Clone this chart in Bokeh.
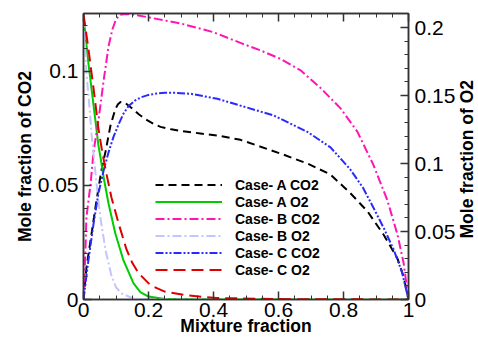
import numpy as np
from bokeh.plotting import figure
from bokeh.layouts import row
from bokeh.models import Range1d, LinearAxis, FixedTicker, Legend, LegendItem, Div
from bokeh.embed import file_html
from bokeh.resources import INLINE

# ---- data ----
a_co2_x = [0, 0.009, 0.025, 0.04, 0.055, 0.068, 0.083, 0.098, 0.106, 0.114, 0.122, 0.13, 0.148, 0.17, 0.191, 0.215, 0.237, 0.27, 0.3, 0.36, 0.42, 0.483, 0.545, 0.606, 0.689, 0.76, 0.822, 0.874, 0.923, 0.966, 0.985, 1.0]
a_co2_y = [0, 0.014, 0.029, 0.0434, 0.0566, 0.0650, 0.0763, 0.0835, 0.0856, 0.0866, 0.0866, 0.0860, 0.0840, 0.0812, 0.0790, 0.0770, 0.0757, 0.0746, 0.0739, 0.0728, 0.0717, 0.0700, 0.0670, 0.0640, 0.0596, 0.0548, 0.0465, 0.0386, 0.0285, 0.0180, 0.010, 0]

a_o2_x = [0, 0.003, 0.015, 0.031, 0.046, 0.052, 0.062, 0.077, 0.098, 0.123, 0.154, 0.175, 0.2, 0.25, 0.35, 1.0]
a_o2_y = [0.208, 0.2015, 0.174, 0.1426, 0.1132, 0.1050, 0.0897, 0.0706, 0.0485, 0.0287, 0.0118, 0.0055, 0.0022, 0.0004, 0, 0]

b_co2_x = [0, 0.006, 0.009, 0.022, 0.031, 0.046, 0.062, 0.077, 0.089, 0.1, 0.112, 0.129, 0.16, 0.2, 0.3, 0.4, 0.483, 0.545, 0.606, 0.668, 0.729, 0.791, 0.843, 0.892, 0.935, 0.966, 0.985, 1.0]
b_co2_y = [0, 0.0215, 0.036, 0.051, 0.065, 0.0785, 0.096, 0.111, 0.1185, 0.1228, 0.1248, 0.1252, 0.1248, 0.1237, 0.1210, 0.1172, 0.1125, 0.1092, 0.1055, 0.1005, 0.0928, 0.0838, 0.0735, 0.0590, 0.0435, 0.0285, 0.0160, 0]

b_o2_x = [0, 0.003, 0.009, 0.018, 0.025, 0.031, 0.04, 0.052, 0.068, 0.086, 0.1, 0.117, 0.154, 0.2, 1.0]
b_o2_y = [0.21, 0.192, 0.167, 0.1426, 0.121, 0.1070, 0.0853, 0.0603, 0.036, 0.0175, 0.0090, 0.0044, 0.0007, 0, 0]

c_co2_x = [0, 0.015, 0.031, 0.046, 0.062, 0.077, 0.092, 0.108, 0.123, 0.138, 0.158, 0.178, 0.2, 0.225, 0.25, 0.28, 0.33, 0.412, 0.483, 0.585, 0.689, 0.76, 0.82, 0.86, 0.893, 0.925, 0.954, 0.98, 1.0]
c_co2_y = [0, 0.0171, 0.0333, 0.0465, 0.0566, 0.0645, 0.0712, 0.0768, 0.0815, 0.0847, 0.0872, 0.0887, 0.0897, 0.0903, 0.0906, 0.0906, 0.0902, 0.0880, 0.0850, 0.0807, 0.0735, 0.0667, 0.0572, 0.0490, 0.0400, 0.0310, 0.0220, 0.0120, 0]

c_o2_x = [0, 0.015, 0.031, 0.046, 0.058, 0.071, 0.086, 0.108, 0.132, 0.15, 0.169, 0.206, 0.25, 0.32, 0.41, 0.6, 1.0]
c_o2_y = [0.21, 0.1846, 0.155, 0.1257, 0.1080, 0.0920, 0.0750, 0.0559, 0.0370, 0.0270, 0.0195, 0.0105, 0.0058, 0.0030, 0.0011, 0.0003, 0]

series_labels = ["Case- A CO2", "Case- A O2", "Case- B CO2", "Case- B O2", "Case- C CO2", "Case- C O2"]

x_ticks = [0, 0.2, 0.4, 0.6, 0.8, 1.0]
x_tick_labels = ["0", "0.2", "0.4", "0.6", "0.8", "1"]
left_ticks = [0, 0.05, 0.1]
left_tick_labels = ["0", "0.05", "0.1"]
right_ticks = [0, 0.05, 0.1, 0.15, 0.2]
right_tick_labels = ["0", "0.05", "0.1", "0.15", "0.2"]
right_title = "Mole fraction of O2"

FONT = "Liberation Sans"
TICK_FS = "21px"
LABEL_FS = "17.5px"

TITLE_W = 20  # strip on the far right that carries the right-hand axis title

p = figure(width=478 - TITLE_W, height=342, output_backend="svg", toolbar_location=None,
           x_range=Range1d(0, 1), y_range=Range1d(0, 0.1254),
           min_border_left=83, min_border_right=70 - TITLE_W, min_border_top=13, min_border_bottom=43,
           background_fill_color="white", border_fill_color="white")
p.extra_y_ranges = {"o2": Range1d(0, 0.2103)}
p.xgrid.visible = False
p.ygrid.visible = False
p.outline_line_color = "#333333"
p.outline_line_width = 1.5


def style_axis(ax, ticks, labels, minor, show_labels=True):
    ax.ticker = FixedTicker(ticks=ticks, minor_ticks=minor)
    ax.major_label_overrides = {t: l for t, l in zip(ticks, labels)}
    ax.major_tick_in = 8
    ax.major_tick_out = 0
    ax.minor_tick_in = 4
    ax.minor_tick_out = 0
    ax.axis_line_color = "#333333"
    ax.axis_line_width = 1.5
    ax.major_tick_line_color = "#333333"
    ax.minor_tick_line_color = "#333333"
    ax.major_tick_line_width = 1.5
    ax.major_label_text_font = FONT
    ax.major_label_text_font_size = TICK_FS if show_labels else "1px"
    ax.major_label_text_color = "black" if show_labels else None
    ax.major_label_standoff = 5
    ax.axis_label_text_font = FONT
    ax.axis_label_text_font_size = LABEL_FS
    ax.axis_label_text_font_style = "bold"
    ax.axis_label_text_color = "black"
    ax.axis_label_standoff = 0


x_minor = [float(v) for v in np.round(np.arange(0, 1.0001, 0.05), 4)]
l_minor = [float(v) for v in np.round(np.arange(0, 0.1251, 0.01), 4)]
r_minor = [float(v) for v in np.round(np.arange(0, 0.2101, 0.01), 4)]

xa = p.xaxis[0]
style_axis(xa, x_ticks, x_tick_labels, x_minor)
xa.axis_label = "Mixture fraction"
xa.major_label_standoff = 3
xa.axis_label_standoff = -4

ya = p.yaxis[0]
style_axis(ya, left_ticks, left_tick_labels, l_minor)
ya.axis_label = "Mole fraction of CO2"

ra = LinearAxis(y_range_name="o2")
style_axis(ra, right_ticks, right_tick_labels, r_minor)
ra.major_label_standoff = 6
p.add_layout(ra, "right")

ta = LinearAxis()
style_axis(ta, x_ticks, x_tick_labels, x_minor, show_labels=False)
ta.major_label_standoff = 0
p.add_layout(ta, "above")

W = 2
r1 = p.line(a_co2_x, a_co2_y, line_color="black", line_width=W, line_dash="8 5")
r2 = p.line(a_o2_x, a_o2_y, line_color="#00cc00", line_width=W, y_range_name="o2")
r3 = p.line(b_co2_x, b_co2_y, line_color="#ff14b4", line_width=W, line_dash="9 3 2 3")
r4 = p.line(b_o2_x, b_o2_y, line_color="#c4c4ff", line_width=W, line_dash="9 3 2 3", y_range_name="o2")
r5 = p.line(c_co2_x, c_co2_y, line_color="#2a2aff", line_width=W, line_dash="8 2 2 2 2 2")
r6 = p.line(c_o2_x, c_o2_y, line_color="#dd0000", line_width=W, line_dash="12 6", y_range_name="o2")

items = [LegendItem(label=l, renderers=[r]) for l, r in zip(series_labels, [r1, r2, r3, r4, r5, r6])]
legend = Legend(items=items, location=(72, 21), margin=0, padding=0,
                border_line_alpha=0, background_fill_alpha=0,
                glyph_width=67, glyph_height=17, label_height=17, spacing=0,
                label_standoff=13, label_text_font=FONT, label_text_font_size="14px",
                label_text_font_style="bold", label_text_color="black")
p.add_layout(legend)

# right-hand axis title, reading bottom-to-top
title_html = (
    '<div style="width:%dpx;height:318px;display:flex;align-items:center;justify-content:center;">'
    '<span style="writing-mode:vertical-rl;transform:rotate(180deg);white-space:nowrap;'
    "font-family:'%s';font-weight:bold;font-size:%s;color:black;line-height:1;\">%s</span></div>"
    % (TITLE_W, FONT, LABEL_FS, right_title)
)
title_div = Div(text=title_html, width=TITLE_W, height=342, margin=0,
                styles={"background-color": "white"})

layout = row(p, title_div, spacing=0)

open("out.html", "w").write(file_html(layout, INLINE))
